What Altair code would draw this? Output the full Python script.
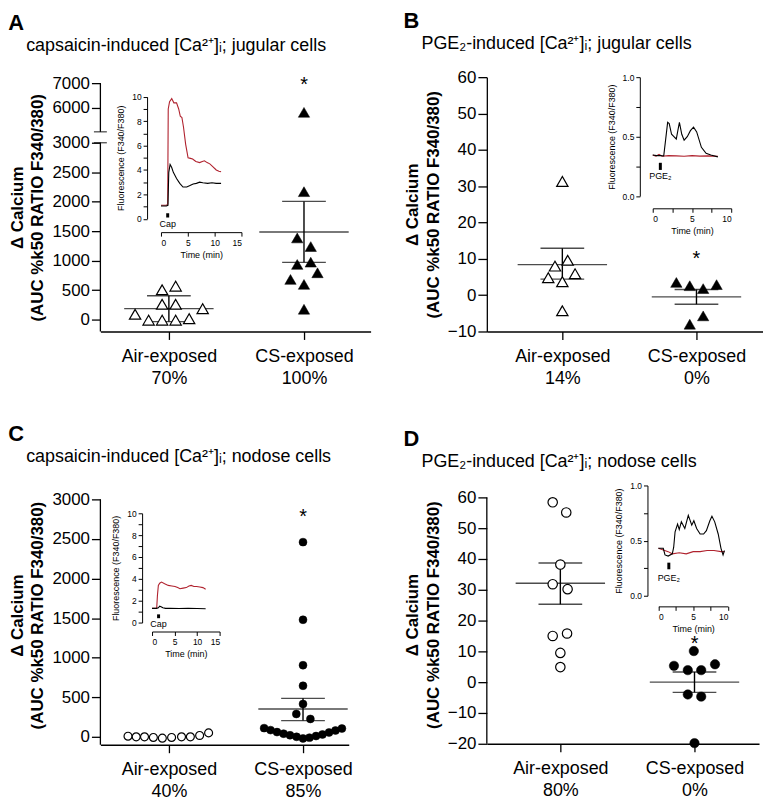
import altair as alt
import pandas as pd

FONT = "Liberation Sans"
RED = "#b0222e"
GAP = "\u2800\u00a0"

groups = ["Air-exposed", "CS-exposed"]
ytitle = ["\u0394 Calcium", "(AUC %k50 RATIO F340/380)"]

# ---------------- Panel A ----------------
A_letter = "A"
A_title = "capsaicin-induced [Ca\u00b2\u207a]\u1d62; jugular cells"
A_pct = ["70%", "100%"]
A_air_val = [90, -10, -10, -10, 15, 185, 260, 260, 505, 567]
A_air_jit = [-0.25, -0.15, -0.05, 0.05, 0.15, 0.25, -0.05, 0.05, -0.05, 0.05]
A_cs_val = [5800, 2170, 1385, 1239, 935, 974, 794, 681, 597, 175]
A_cs_jit = [0, 0, -0.05, 0.05, -0.05, 0.05, 0.1, -0.1, 0, 0]
A_sum_grp = [1, 2]
A_mean = [185, 1486]
A_sem_hi = [404, 2005]
A_sem_lo = [-34, 971]
A_star = 7130
A_yticks = [0, 500, 1000, 1500, 2000, 2500, 3000, 6000, 7000]
A_break = [3000, 5000]
A_axis_lo = [-202, 5000]
A_axis_hi = [3000, 7000]
A_red_t = [0, 0.5, 1.0, 1.25, 1.35, 1.6, 2.0, 2.4, 2.9, 3.3, 3.6, 3.9, 4.2, 4.6, 5.05, 5.5,
           5.9, 6.5, 7.2, 7.7, 8.1, 8.6, 9.1, 9.6, 10.3, 10.8, 11.2]
A_red_f = [1.1, 1.1, 1.1, 1.2, 9.0, 9.6, 9.85, 9.5, 9.5, 9.0, 8.4, 8.3, 7.5, 6.1, 5.0, 4.95,
           4.9, 4.7, 4.6, 4.7, 4.75, 4.6, 4.5, 4.3, 4.0, 3.9, 3.85]
A_blk_t = [0, 0.5, 1.0, 1.3, 1.45, 1.7, 2.0, 2.3, 2.9, 3.5, 4.1, 4.8, 5.3, 6.0, 6.6, 7.2,
           7.8, 8.7, 9.5, 10.3, 11.2]
A_blk_f = [1.05, 1.05, 1.05, 1.1, 3.8, 4.45, 4.2, 3.8, 3.3, 2.9, 2.6, 2.6, 2.7, 2.85, 2.9,
           3.0, 2.95, 2.9, 2.95, 2.9, 2.9]
A_stim = dict(t=1.25, y1=0.1, y2=0.45, ly=-0.4, label="Cap")

# ---------------- Panel B ----------------
B_letter = "B"
B_title = "PGE\u2082-induced [Ca\u00b2\u207a]\u1d62; jugular cells"
B_pct = ["14%", "0%"]
B_air_val = [31.3, 9.6, 8.0, 5.9, 4.8, 3.7, -4.3]
B_air_jit = [0, 0.04, -0.055, 0.095, -0.105, 0, 0]
B_cs_val = [3.5, 2.6, 1.8, 2.9, -5.7, -8.0]
B_cs_jit = [-0.15, -0.05, 0.05, 0.15, 0.05, -0.05]
B_sum_grp = [1, 2]
B_mean = [8.4, -0.46]
B_sem_hi = [12.9, 1.55]
B_sem_lo = [4.4, -2.5]
B_star = 11.2
B_yticks = [-10, 0, 10, 20, 30, 40, 50, 60]
B_blk_t = [0, 0.5, 1.0, 1.4, 1.6, 1.9, 2.1, 2.4, 2.7, 3.0, 3.2, 3.4, 3.7, 4.0, 4.4, 4.8,
           5.2, 5.6, 6.2, 6.8, 7.4, 8.3]
B_blk_f = [0.345, 0.34, 0.34, 0.337, 0.45, 0.62, 0.61, 0.52, 0.5, 0.48, 0.55, 0.62, 0.52,
           0.47, 0.5, 0.55, 0.58, 0.54, 0.41, 0.36, 0.345, 0.33]
B_red_t = [0, 0.4, 0.8, 1.2, 2, 3, 4, 5, 6, 7, 8.3]
B_red_f = [0.345, 0.335, 0.35, 0.335, 0.34, 0.338, 0.335, 0.34, 0.336, 0.338, 0.335]
B_stim = dict(t=0.97, y1=0.22, y2=0.28, ly=0.165, label="PGE\u2082")

# ---------------- Panel C ----------------
C_letter = "C"
C_title = "capsaicin-induced [Ca\u00b2\u207a]\u1d62; nodose cells"
C_pct = ["40%", "85%"]
C_air_val = [8, 0, 0, -8, -17, -8, 0, 0, 17, 50]
C_air_jit = [-0.305, -0.244, -0.182, -0.116, -0.049, 0.02, 0.094, 0.16, 0.229, 0.296]
C_cs_val = [2460, 1479, 905, 645, 415, 289, 226, 110, 85, 60, 40, 20, 0, -20, -10, 10,
            30, 55, 80, 105]
C_cs_jit = [0, 0, 0, 0, 0, -0.05, 0.055, -0.29, -0.242, -0.194, -0.145, -0.097, -0.048,
            0, 0.048, 0.097, 0.145, 0.194, 0.242, 0.29]
C_sum_grp = [2]
C_mean = [352]
C_sem_hi = [486]
C_sem_lo = [205]
C_star = 2836
C_yticks = [0, 500, 1000, 1500, 2000, 2500, 3000]
C_axis_lo = [-100]
C_axis_hi = [3000]
C_red_t = [0, 0.5, 1.03, 1.2, 1.4, 1.7, 2.1, 2.8, 3.6, 4.4, 5.1, 5.7, 6.2, 6.9, 7.6, 8.2,
           8.7, 9.3, 9.9, 10.6, 11.3, 11.9]
C_red_f = [1.3, 1.3, 1.3, 2.5, 3.4, 3.6, 3.7, 3.55, 3.4, 3.35, 3.3, 3.2, 3.1, 3.15, 3.2,
           3.35, 3.4, 3.3, 3.3, 3.25, 3.2, 3.05]
C_blk_t = [0, 1.0, 1.4, 1.7, 2.0, 2.4, 3, 4, 6, 8, 10, 11.9]
C_blk_f = [1.3, 1.3, 1.35, 1.5, 1.45, 1.35, 1.3, 1.3, 1.28, 1.3, 1.28, 1.27]
C_stim = dict(t=1.45, y1=0.4, y2=0.75, ly=-0.1, label="Cap")

# ---------------- Panel D ----------------
D_letter = "D"
D_title = "PGE\u2082-induced [Ca\u00b2\u207a]\u1d62; nodose cells"
D_pct = ["80%", "0%"]
D_air_val = [58.4, 55.1, 38.2, 31.8, 30.2, 15.0, 15.8, 9.5, 4.9]
D_air_jit = [-0.057, 0.044, 0, -0.057, 0.054, -0.057, 0.05, 0, 0]
D_cs_val = [10.1, 5.3, 3.9, 3.9, 5.8, -4.0, -4.7, -19.8]
D_cs_jit = [-0.005, -0.153, -0.05, 0.05, 0.153, -0.05, 0.05, 0]
D_sum_grp = [1, 2]
D_mean = [32.1, 0]
D_sem_hi = [38.7, 3.3]
D_sem_lo = [25.3, -3.3]
D_star = 13.9
D_yticks = [-20, -10, 0, 10, 20, 30, 40, 50, 60]
D_axis_lo = [-20]
D_axis_hi = [60]
D_blk_t = [0, 0.7, 0.95, 1.4, 2.0, 2.2, 2.4, 2.76, 3.0, 3.3, 3.8, 4.3, 4.8, 5.1, 5.5, 6.0,
           6.5, 6.9, 7.4, 7.7, 8.1, 8.6, 9.0, 9.3, 9.5]
D_blk_f = [0.43, 0.43, 0.37, 0.36, 0.38, 0.44, 0.58, 0.65, 0.6, 0.67, 0.61, 0.73, 0.64,
           0.68, 0.61, 0.56, 0.56, 0.59, 0.68, 0.72, 0.67, 0.56, 0.43, 0.37, 0.41]
D_red_t = [0, 0.5, 1.4, 2, 3, 4, 5, 6, 7, 8, 9, 9.5]
D_red_f = [0.43, 0.42, 0.40, 0.38, 0.39, 0.38, 0.40, 0.40, 0.41, 0.41, 0.40, 0.40]
D_stim = dict(t=1.5, y1=0.24, y2=0.30, ly=0.16, label="PGE\u2082")


def make_panel(letter, title, pct, air_val, air_jit, cs_val, cs_jit, sum_grp, mean, hi, lo,
               star, yticks, red_t, red_f, blk_t, blk_f, stim, lay, shape, size,
               break_vals=None, axis_lo=None, axis_hi=None):
    xsc = alt.Scale(domain=lay["xdom"], nice=False, zero=False)
    ykw = dict(domain=lay["ydom"], nice=False, zero=False)
    if "yrange" in lay:
        ykw["range"] = lay["yrange"]
    ysc = alt.Scale(**ykw)
    label_expr = (f"datum.value == 1 ? ['{groups[0]}', '{pct[0]}'] : "
                  f"['{groups[1]}', '{pct[1]}']")
    xax = alt.Axis(values=[1, 2], labelExpr=label_expr, title=None, tickSize=8,
                   labelFontSize=18, labelLineHeight=22, labelPadding=8, labelAngle=0,
                   domainWidth=1.3, tickWidth=1.3, grid=False, labelBaseline="top")
    yax = alt.Axis(values=yticks, format="d", title=ytitle, titleFontSize=17,
                   titleFontWeight="bold", titleLineHeight=21, labelFontSize=17,
                   tickSize=9, labelPadding=2, titlePadding=5, domainWidth=1.3,
                   tickWidth=1.3, grid=False, domain=(axis_lo is None))

    def X(f):
        return alt.X(f, type="quantitative", scale=xsc, axis=xax)

    def Y(f):
        return alt.Y(f, type="quantitative", scale=ysc, axis=yax)

    air = pd.DataFrame({"val": air_val, "xpos": [1 + j for j in air_jit]})
    cs = pd.DataFrame({"val": cs_val, "xpos": [2 + j for j in cs_jit]})
    summ = pd.DataFrame({"grp": sum_grp, "mean": mean, "hi": hi, "lo": lo})
    stardf = pd.DataFrame({"grp": [2], "y": [star]})

    layers = []
    if axis_lo is not None:
        segs = pd.DataFrame({"x": [lay["xdom"][0]] * len(axis_lo), "lo": axis_lo,
                             "hi": axis_hi})
        layers.append(alt.Chart(segs).mark_rule(color="black", strokeWidth=1.3)
                      .encode(x=X("x"), y=Y("lo"), y2="hi"))
    if break_vals is not None:
        brk = pd.DataFrame({"x": [lay["xdom"][0]] * len(break_vals), "y": break_vals})
        layers.append(alt.Chart(brk).mark_tick(orient="horizontal", size=13, thickness=1.3,
                                               color="black")
                      .encode(x=X("x"), y=Y("y")))
    layers.append(alt.Chart(summ).mark_rule(color="black", strokeWidth=1.4)
                  .encode(x=X("grp"), y=Y("lo"), y2="hi"))
    for fld, sz in (("mean", 90), ("hi", 44), ("lo", 44)):
        layers.append(alt.Chart(summ).mark_tick(orient="horizontal", size=sz, thickness=1.4,
                                                color="black")
                      .encode(x=X("grp"), y=Y(fld)))
    layers.append(alt.Chart(air).mark_point(shape=shape, filled=True, fill="white",
                                            stroke="black", strokeWidth=1.2, size=size,
                                            opacity=1)
                  .encode(x=X("xpos"), y=Y("val")))
    layers.append(alt.Chart(cs).mark_point(shape=shape, filled=True, fill="black",
                                           stroke="black", strokeWidth=0.5, size=size,
                                           opacity=1)
                  .encode(x=X("xpos"), y=Y("val")))
    layers.append(alt.Chart(stardf).mark_text(text="*", fontSize=20, font=FONT, dy=5,
                                              baseline="middle", color="black")
                  .encode(x=X("grp"), y=Y("y")))
    main = alt.layer(*layers)

    # ---- inset ----
    ix = lay["ix"]
    iy = lay["iy"]
    ixsc = alt.Scale(domain=ix["dom"], range=ix["range"], nice=False, zero=False)
    iysc = alt.Scale(domain=iy["dom"], range=iy["range"], nice=False, zero=False)
    ixax = alt.Axis(orient="bottom", offset=ix["offset"], values=ix["values"],
                    labelExpr=ix["expr"], title="Time (min)", titleFontSize=9,
                    titleFontWeight="normal", labelFontSize=8.5, tickSize=4,
                    labelPadding=2, titlePadding=4, domainWidth=1, tickWidth=1, grid=False,
                    labelAngle=0)
    iyax = alt.Axis(orient="left", offset=iy["offset"], values=iy["values"],
                    labelExpr=iy["expr"], title="Fluorescence (F340/F380)", titleFontSize=9,
                    titleFontWeight="normal", labelFontSize=8.5, tickSize=4,
                    labelPadding=2, titlePadding=6, domainWidth=1, tickWidth=1, grid=False)

    def IX(f):
        return alt.X(f, type="quantitative", scale=ixsc, axis=ixax)

    def IY(f):
        return alt.Y(f, type="quantitative", scale=iysc, axis=iyax)

    traces = pd.concat([
        pd.DataFrame({"t": red_t, "f": red_f, "s": "CS-exposed"}),
        pd.DataFrame({"t": blk_t, "f": blk_f, "s": "Air-exposed"}),
    ])
    sdf = pd.DataFrame({"t": [stim["t"]], "y1": [stim["y1"]], "y2": [stim["y2"]],
                        "ly": [stim["ly"]], "lab": [stim["label"]]})
    inset = alt.layer(
        alt.Chart(traces).mark_line(strokeWidth=1.1).encode(
            x=IX("t"), y=IY("f"),
            color=alt.Color("s:N", scale=alt.Scale(domain=["CS-exposed", "Air-exposed"],
                                                   range=[RED, "black"]), legend=None),
            order=alt.Order("t:Q")),
        alt.Chart(sdf).mark_rule(color="black", strokeWidth=3).encode(
            x=IX("t"), y=IY("y1"), y2="y2"),
        alt.Chart(sdf).mark_text(fontSize=9, font=FONT, baseline="middle", color="black")
        .encode(x=IX("t"), y=IY("ly"), text="lab:N"),
    )

    return alt.layer(main, inset).resolve_scale(x="independent", y="independent",
                                                 color="independent").properties(
        width=lay["w"], height=lay["h"],
        title=alt.TitleParams(text=letter, subtitle=GAP + title, anchor="start",
                              frame="bounds", fontSize=22, fontWeight="bold",
                              subtitleFontSize=18, subtitlePadding=2,
                              offset=lay["toff"], color="black", subtitleColor="black"))


ex15 = "datum.value % 5 == 0 ? format(datum.value, 'd') : ''"
ey10 = "datum.value % 2 == 0 ? format(datum.value, 'd') : ''"
ex10 = "datum.value % 5 == 0 ? format(datum.value, 'd') : ''"
ey1 = "(datum.value * 4) % 2 == 0 ? format(datum.value, '.1f') : ''"

lay_A = dict(w=272, h=256, xdom=[0.493, 2.493], ydom=[-202, 3000, 5000, 7000],
             yrange=[256, 66, 55, 6], toff=18,
             ix=dict(dom=[0, 15], range=[61, 142], offset=-100, values=[0, 5, 10, 15],
                     expr=ex15),
             iy=dict(dom=[0, 10], range=[142.5, 19.7], offset=-47,
                     values=list(range(0, 11)), expr=ey10))
lay_B = dict(w=278, h=256, xdom=[0.437, 2.496], ydom=[-10, 60], toff=14,
             ix=dict(dom=[0, 10], range=[167, 246], offset=-124,
                     values=[0, 2.5, 5, 7.5, 10], expr=ex10),
             iy=dict(dom=[0, 1], range=[119.7, 0], offset=-154,
                     values=[0, 0.25, 0.5, 0.75, 1.0], expr=ey1))
lay_C = dict(w=250, h=261, xdom=[0.489, 2.341], ydom=[-100, 3176], toff=19,
             ix=dict(dom=[0, 15], range=[52, 120], offset=-114, values=[0, 5, 10, 15],
                     expr=ex15),
             iy=dict(dom=[0, 10], range=[138, 28], offset=-42,
                     values=list(range(0, 11)), expr=ey10))
lay_D = dict(w=274, h=260, xdom=[0.452, 2.481], ydom=[-20, 63.87], toff=10,
             ix=dict(dom=[0, 10], range=[172.7, 242.7], offset=-138.3,
                     values=[0, 2.5, 5, 7.5, 10], expr=ex10),
             iy=dict(dom=[0, 1], range=[111, 0], offset=-161.7,
                     values=[0, 0.25, 0.5, 0.75, 1.0], expr=ey1))

pA = make_panel(A_letter, A_title, A_pct, A_air_val, A_air_jit, A_cs_val, A_cs_jit, A_sum_grp,
                A_mean, A_sem_hi, A_sem_lo, A_star, A_yticks, A_red_t, A_red_f, A_blk_t,
                A_blk_f, A_stim, lay_A, "triangle-up", 130, break_vals=A_break,
                axis_lo=A_axis_lo, axis_hi=A_axis_hi)
pB = make_panel(B_letter, B_title, B_pct, B_air_val, B_air_jit, B_cs_val, B_cs_jit, B_sum_grp,
                B_mean, B_sem_hi, B_sem_lo, B_star, B_yticks, B_red_t, B_red_f, B_blk_t,
                B_blk_f, B_stim, lay_B, "triangle-up", 130)
pC = make_panel(C_letter, C_title, C_pct, C_air_val, C_air_jit, C_cs_val, C_cs_jit, C_sum_grp,
                C_mean, C_sem_hi, C_sem_lo, C_star, C_yticks, C_red_t, C_red_f, C_blk_t,
                C_blk_f, C_stim, lay_C, "circle", 64,
                axis_lo=C_axis_lo, axis_hi=C_axis_hi)
pD = make_panel(D_letter, D_title, D_pct, D_air_val, D_air_jit, D_cs_val, D_cs_jit, D_sum_grp,
                D_mean, D_sem_hi, D_sem_lo, D_star, D_yticks, D_red_t, D_red_f, D_blk_t,
                D_blk_f, D_stim, lay_D, "circle", 90,
                axis_lo=D_axis_lo, axis_hi=D_axis_hi)

chart = alt.concat(pA, pB, pC, pD, columns=2, spacing={"row": 155, "column": 117},
                   bounds="flush").properties(
    padding=0
).configure_view(stroke=None).configure_axis(
    labelFont=FONT, titleFont=FONT, labelColor="black", titleColor="black",
    domainColor="black", tickColor="black"
).configure_title(font=FONT, subtitleFont=FONT)

chart.save("out.html", embed_options={"renderer": "svg", "actions": False})
